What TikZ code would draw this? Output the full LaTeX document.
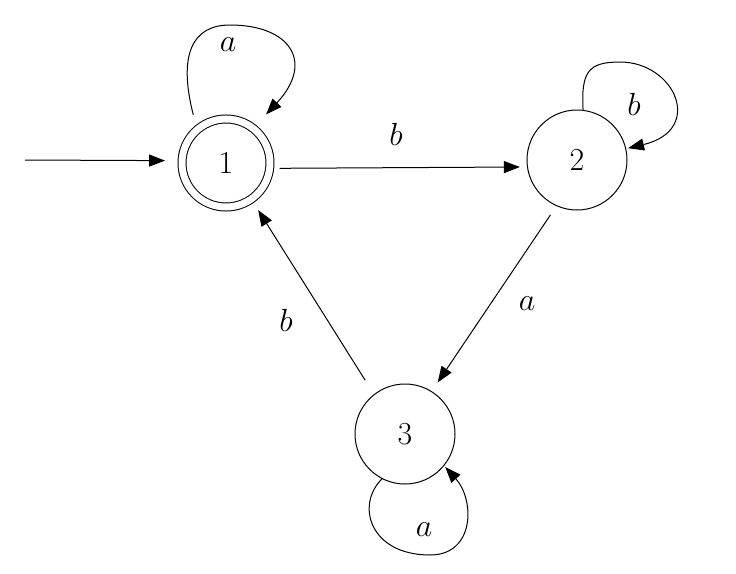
\RequirePackage{fix-cm}
\documentclass[tikz,border=0pt]{standalone}
\usetikzlibrary{arrows.meta}
\begin{document}
\begin{tikzpicture}[x=0.5pt,y=-0.5pt,
  state/.style={circle,draw,line width=0.5pt,minimum size=50pt,inner sep=0pt,outer sep=0pt,font=\fontsize{16}{19}\selectfont},
  accept/.style={state,double,double distance=3.5pt,minimum size=44pt},
  edge/.style={line width=0.5pt,-{Triangle[length=8pt,width=6pt]}},
  lbl/.style={font=\fontsize{16}{19}\selectfont,inner sep=0pt}]
\useasboundingbox (0,0) rectangle (736,574);
\node[accept] (n1) at (226,163) {1};
\node[state] (n2) at (577,160) {2};
\node[state] (n3) at (405,434) {3};
\coordinate (init) at (25,160);
% initial arrow
\draw[edge, shorten >=8.5pt] (init) -- (n1.177.2);
% transitions
\draw[edge, shorten <=5pt, shorten >=3.8pt] (n1.-7.4) -- (n2.188);
\draw[edge, shorten <=5.5pt, shorten >=5.5pt] (n2.246.8) -- (n3.58.4);
\draw[edge, shorten <=8.5pt, shorten >=6.5pt] (n3.128.9) -- (n1.-55.8);
% loops
\draw[edge, shorten <=7.75pt, shorten >=9.5pt] (n1.131) .. controls (178,55) and (192,25) .. (230,25) .. controls (290,25) and (315,62) .. (n1.52);
\draw[edge, shorten >=1.2pt] (n2.83) .. controls (581,72) and (588,62) .. (620,62) .. controls (675,62) and (705,130) .. (n2.13);
\draw[edge, shorten >=1pt] (n3.243.4) .. controls (355,505) and (370,555) .. (430,555) .. controls (475,555) and (475,500) .. (n3.-39.5);
% labels
\node[lbl] (l11) at (228,45) {$a$};
\node[lbl] (l22) at (634,104) {$b$};
\node[lbl] (l33) at (424,530) {$a$};
\node[lbl] (l12) at (396,134) {$b$};
\node[lbl] (l23) at (527,304) {$a$};
\node[lbl] (l31) at (286,320) {$b$};
\end{tikzpicture}
\end{document}
